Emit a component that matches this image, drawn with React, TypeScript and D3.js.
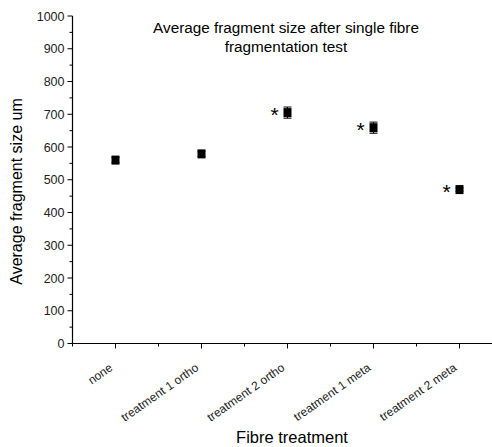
import * as d3 from "d3";

const categories = ["none", "treatment 1 ortho", "treatment 2 ortho", "treatment 1 meta", "treatment 2 meta"];
const means = [560, 579, 705, 659, 470];
const errors = [8, 8, 17, 17, 5];
const significant = [false, false, true, true, true];
const yTicks = [0, 100, 200, 300, 400, 500, 600, 700, 800, 900, 1000];
const yMinorTicks = [50, 150, 250, 350, 450, 550, 650, 750, 850, 950];

const W = 492;
const H = 447;
const font = "'Liberation Sans', Arial, sans-serif";

const App = () => {
    const x = d3.scaleLinear().domain([0.5, 1.5]).range([72.5, 158.5]);
    const y = d3.scaleLinear().domain([0, 1000]).range([343.5, 16]);
    const xMajor = categories.map((_, i) => i + 1);
    const xMinor = d3.range(0.5, 5.6, 1);

    return (
        <svg width={W} height={H} style={{ position: "absolute", left: 0, top: 0, background: "#fff" }} fontFamily={font}>
            {/* title */}
            <text x={286} y={32.5} textAnchor="middle" fontSize={15.3}>Average fragment size after single fibre</text>
            <text x={286} y={51.5} textAnchor="middle" fontSize={15.3}>fragmentation test</text>

            {/* y axis */}
            <line x1={x(0.5)} x2={x(0.5)} y1={y(0)} y2={y(1000)} stroke="#000" strokeWidth={1.2} />
            {yTicks.map((t) => (
                <g key={t}>
                    <line x1={x(0.5) - 5} x2={x(0.5)} y1={y(t)} y2={y(t)} stroke="#000" />
                    <text x={x(0.5) - 8} y={y(t)} dy="0.36em" textAnchor="end" fontSize={12.5} fill="#222">{t}</text>
                </g>
            ))}
            {yMinorTicks.map((t) => (
                <line key={t} x1={x(0.5) - 3} x2={x(0.5)} y1={y(t)} y2={y(t)} stroke="#000" />
            ))}
            <text transform={`translate(22,191.5) rotate(-90)`} textAnchor="middle" fontSize={16}>Average fragment size um</text>

            {/* x axis */}
            <line x1={x(0.5)} x2={W} y1={y(0)} y2={y(0)} stroke="#000" strokeWidth={1.2} />
            {xMajor.map((v, i) => (
                <g key={v}>
                    <line x1={x(v)} x2={x(v)} y1={y(0)} y2={y(0) + 5} stroke="#000" />
                    <text
                        transform={`translate(${x(v) - 2},${y(0) + 26}) rotate(-35)`}
                        textAnchor="end"
                        fontSize={12}
                        fill="#222"
                    >
                        {categories[i]}
                    </text>
                </g>
            ))}
            {xMinor.map((v) => (
                <line key={v} x1={x(v)} x2={x(v)} y1={y(0)} y2={y(0) + 3} stroke="#000" />
            ))}
            <text x={292} y={443} textAnchor="middle" fontSize={16.5}>Fibre treatment</text>

            {/* points with error bars */}
            {means.map((m, i) => {
                const cx = x(i + 1);
                return (
                    <g key={i}>
                        <line x1={cx} x2={cx} y1={y(m - errors[i])} y2={y(m + errors[i])} stroke="#000" />
                        <line x1={cx - 4} x2={cx + 4} y1={y(m - errors[i])} y2={y(m - errors[i])} stroke="#000" />
                        <line x1={cx - 4} x2={cx + 4} y1={y(m + errors[i])} y2={y(m + errors[i])} stroke="#000" />
                        <rect x={cx - 4} y={y(m) - 4.5} width={8} height={9} fill="#000" />
                        {significant[i] && (
                            <text x={cx - 13} y={y(m)} dy="0.45em" textAnchor="middle" fontSize={21}>*</text>
                        )}
                    </g>
                );
            })}
        </svg>
    );
};

export default App;
